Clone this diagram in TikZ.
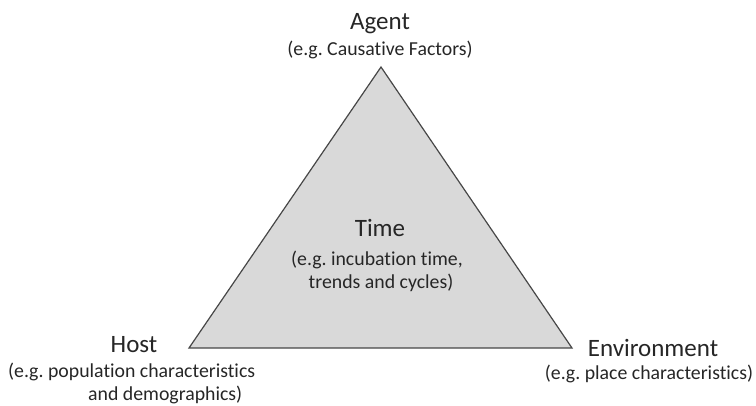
\documentclass[tikz,border=0pt]{standalone}
\usepackage{fontspec}
\setmainfont{Carlito}[Ligatures={CommonOff,RequiredOff,ContextualOff},RawFeature={-liga;-clig;-calt;-dlig}]
\frenchspacing
\begin{document}
\begin{tikzpicture}[x=1pt,y=-1pt,
  head/.style={font=\fontsize{25}{30}\selectfont, text=black!85, anchor=base, inner sep=0pt},
  sub/.style={font=\fontsize{19.8}{24}\selectfont, text=black!85, anchor=base, inner sep=0pt},
  tri/.style={fill=black!15, draw=black!72, line width=1.2pt, line join=miter}]
  \useasboundingbox (0,0) rectangle (756,405);
  % vertices of the epidemiologic triangle
  \coordinate (apex) at (381,67);
  \coordinate (left) at (189,348);
  \coordinate (right) at (572,348);
  \draw[tri] (apex) -- (right) -- (left) -- cycle;
  % agent
  \node[head] (agent) at (380,29) {Agent};
  \node[sub] (agentsub) at (380,55) {(e.g. Causative Factors)};
  % centre
  \node[head] (time) at (380,236) {Time};
  \node[sub] (timesub1) at (377,265) {(e.g. incubation time,};
  \node[sub] (timesub2) at (381,288) {trends and cycles)};
  % host
  \node[head] (host) at (134,352) {Host};
  \node[sub, anchor=base west] (hostsub1) at (8,377) {(e.g. population characteristics};
  \node[sub, anchor=base west] (hostsub2) at (88,400) {and demographics)};
  % environment
  \node[head] (env) at (653,356) {Environment};
  \node[sub] (envsub) at (649,379) {(e.g. place characteristics)};
\end{tikzpicture}
\end{document}
